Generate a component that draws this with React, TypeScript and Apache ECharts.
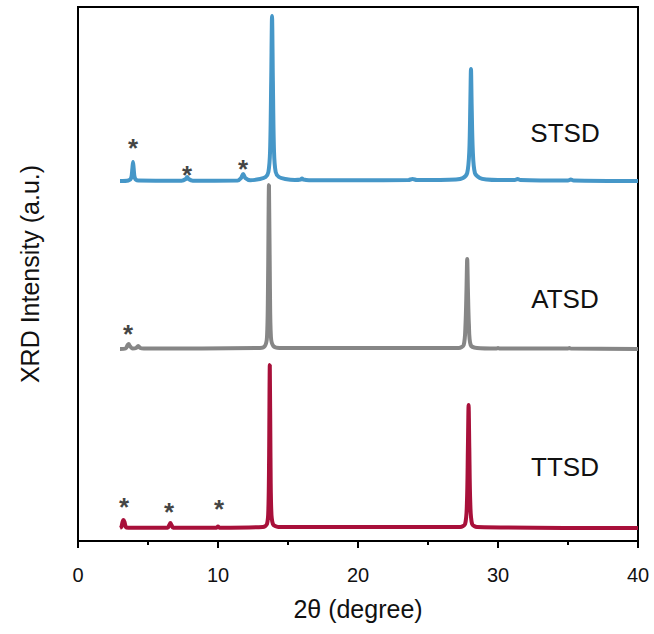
import React, { useEffect, useRef } from "react";
import * as echarts from "echarts";

// x: 2θ (degree), y: relative intensity (a.u.) above each trace's baseline
const stsdPoints: [number, number][] = [
  [3.0, 0], [3.6, 0.5], [3.8, 3], [3.88, 12], [3.93, 19], [3.98, 12], [4.06, 3], [4.3, 0.5],
  [7.4, 0.3], [7.7, 2], [7.8, 4], [7.9, 2], [8.2, 0.3],
  [11.4, 0.5], [11.65, 3], [11.8, 7], [11.95, 3], [12.3, 0.8],
  [13.0, 2], [13.4, 4], [13.6, 9], [13.72, 30], [13.8, 100], [13.86, 165], [13.92, 100], [14.0, 30], [14.12, 9], [14.35, 4], [14.8, 2],
  [15.5, 1], [15.9, 1.5], [16.0, 2.5], [16.1, 1.5], [16.5, 0.8], [20, 0.8],
  [23.6, 1], [23.9, 2], [24.2, 1], [27.0, 1.5], [27.5, 3], [27.8, 8], [27.95, 30], [28.02, 75], [28.07, 112], [28.12, 75], [28.2, 30], [28.35, 8], [28.7, 3], [29.2, 1.5],
  [30, 1], [31.2, 1], [31.4, 2], [31.6, 1], [35.0, 0.5], [35.2, 1.5], [35.4, 0.5], [40, 0],
];
const atsdPoints: [number, number][] = [
  [3.0, 0], [3.4, 0.5], [3.55, 4], [3.62, 5], [3.7, 3], [3.9, 0.5], [4.15, 1], [4.3, 3], [4.45, 1], [4.7, 0.5],
  [13.0, 1], [13.35, 3], [13.5, 12], [13.57, 60], [13.64, 164], [13.71, 60], [13.78, 12], [13.95, 3], [14.4, 1],
  [27.2, 1], [27.55, 4], [27.68, 25], [27.75, 60], [27.8, 90], [27.85, 60], [27.92, 25], [28.05, 4], [28.5, 1],
  [29.9, 0.5], [30, 1], [30.1, 0.5], [35, 0.5], [35.1, 1], [35.2, 0.5], [40, 0],
];
const ttsdPoints: [number, number][] = [
  [3.0, 0], [3.1, 1], [3.18, 6], [3.25, 8], [3.32, 6], [3.42, 1], [3.6, 0.3],
  [6.4, 0.3], [6.52, 3], [6.6, 5], [6.68, 3], [6.8, 0.3],
  [9.9, 0.3], [10.0, 1.5], [10.1, 0.3],
  [13.2, 1], [13.5, 4], [13.6, 20], [13.65, 70], [13.7, 163], [13.75, 70], [13.8, 20], [13.92, 4], [14.3, 1],
  [27.3, 1], [27.65, 4], [27.78, 25], [27.85, 80], [27.9, 123], [27.95, 80], [28.02, 25], [28.15, 4], [28.5, 1], [40, 0],
];

const sampleNames = ["STSD", "ATSD", "TTSD"];
const offsets = [360, 192, 13];
const colors = ["#4697c8", "#868686", "#a8103a"];

// asterisk markers (impurity peaks): [2θ, intensity incl. offset]
const stsdStars: [number, number][] = [[3.93, 396], [7.79, 369], [11.79, 375]];
const atsdStars: [number, number][] = [[3.57, 210]];
const ttsdStars: [number, number][] = [[3.29, 37], [6.5, 32], [10.07, 35]];

const xTicks = [0, 10, 20, 30, 40];

export default function App() {
  const ref = useRef<HTMLDivElement>(null);
  useEffect(() => {
    if (!ref.current) return;
    const chart = echarts.init(ref.current, null, { renderer: "svg" });
    const traces = [stsdPoints, atsdPoints, ttsdPoints];
    const lineSeries = traces.map((pts, i) => ({
      type: "line",
      name: sampleNames[i],
      data: pts.map(([x, y]) => [x, y + offsets[i]]),
      showSymbol: false,
      symbol: "none",
      smooth: 0.3,
      lineStyle: { color: colors[i], width: 4 },
      z: 3 - i,
    }));
    const starSeries = {
      type: "scatter",
      data: [...stsdStars, ...atsdStars, ...ttsdStars],
      symbolSize: 0,
      label: {
        show: true,
        formatter: "*",
        position: "inside",
        offset: [0, 3],
        color: "#111",
        fontSize: 26,
        fontWeight: "bold",
        fontFamily: "Liberation Sans, Arial, sans-serif",
      },
      z: 5,
    };
    const labelY = [133, 299, 467];
    chart.setOption({
      animation: false,
      backgroundColor: "#fff",
      grid: {
        left: 78, right: 16, top: 7, bottom: 93,
        show: true, borderColor: "#000", borderWidth: 2,
        containLabel: false,
      },
      xAxis: {
        type: "value",
        min: xTicks[0], max: xTicks[xTicks.length - 1], interval: 10,
        name: "2θ (degree)",
        nameLocation: "middle",
        nameGap: 55,
        nameTextStyle: { fontSize: 25, color: "#111", fontFamily: "Liberation Sans, Arial, sans-serif" },
        axisLine: { show: true, lineStyle: { color: "#000", width: 2 } },
        axisTick: { show: true, inside: false, length: 7, lineStyle: { color: "#000", width: 2 } },
        minorTick: { show: true, splitNumber: 2, length: 4, lineStyle: { color: "#000", width: 2 } },
        axisLabel: { fontSize: 20, color: "#111", margin: 24, fontFamily: "Liberation Sans, Arial, sans-serif" },
        splitLine: { show: false },
      },
      yAxis: {
        type: "value",
        min: 0, max: 534,
        name: "XRD Intensity (a.u.)",
        nameLocation: "middle",
        nameGap: 36,
        nameTextStyle: { fontSize: 25, color: "#111", fontFamily: "Liberation Sans, Arial, sans-serif" },
        axisLine: { show: true, lineStyle: { color: "#000", width: 2 } },
        axisTick: { show: false },
        axisLabel: { show: false },
        splitLine: { show: false },
      },
      series: [...lineSeries, starSeries],
      graphic: sampleNames.map((n, i) => ({
        type: "text",
        x: 565,
        y: labelY[i],
        style: {
          text: n,
          fontSize: 26,
          fill: "#111",
          fontFamily: "Liberation Sans, Arial, sans-serif",
          align: "center",
          verticalAlign: "middle",
        },
      })),
    });
    return () => chart.dispose();
  }, []);
  return (
    <div
      ref={ref}
      style={{ position: "fixed", left: 0, top: 0, width: 654, height: 634, background: "#fff" }}
    />
  );
}
